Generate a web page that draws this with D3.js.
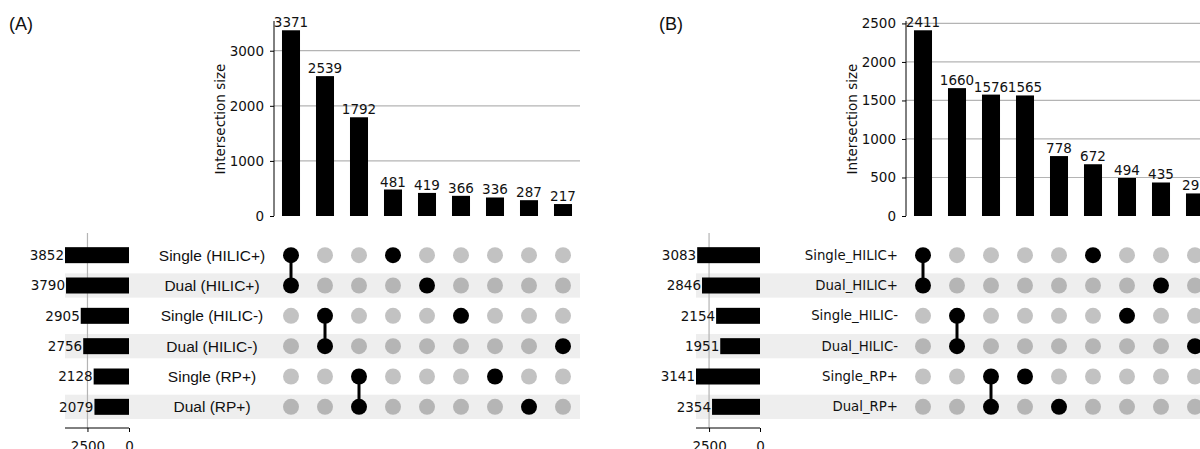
<!DOCTYPE html>
<html>
<head>
<meta charset="utf-8">
<script src="https://cdnjs.cloudflare.com/ajax/libs/d3/7.8.5/d3.min.js"></script>
<style>
  html, body { margin: 0; padding: 0; background: #fff; }
  svg { display: block; }
  text { font-family: "DejaVu Sans", sans-serif; fill: #111; }
</style>
</head>
<body>
<svg id="chart" width="1200" height="449"></svg>
<script>
// ---- data ----
var setsA = ["Single (HILIC+)", "Dual (HILIC+)", "Single (HILIC-)", "Dual (HILIC-)", "Single (RP+)", "Dual (RP+)"];
var totalsA = [3852, 3790, 2905, 2756, 2128, 2079];
var sizesA = [3371, 2539, 1792, 481, 419, 366, 336, 287, 217];
var membersA = [[0, 1], [2, 3], [4, 5], [0], [1], [2], [4], [5], [3]];
var yTicksA = [0, 1000, 2000, 3000];

var setsB = ["Single_HILIC+", "Dual_HILIC+", "Single_HILIC-", "Dual_HILIC-", "Single_RP+", "Dual_RP+"];
var totalsB = [3083, 2846, 2154, 1951, 3141, 2354];
var sizesB = [2411, 1660, 1576, 1565, 778, 672, 494, 435, 293];
var membersB = [[0, 1], [2, 3], [4, 5], [4], [5], [0], [2], [1], [3]];
var yTicksB = [0, 500, 1000, 1500, 2000, 2500];

var totalTicks = [2500, 0];

var svg = d3.select("#chart");

function panel(opt) {
  var g = svg.append("g");
  var n = opt.sizes.length;
  var step = 34;

  // columns (intersections)
  var x = d3.scaleBand().domain(d3.range(n))
      .range([opt.axisX, opt.axisX + step * n])
      .paddingInner(0.47).paddingOuter(0.235);
  var y = d3.scaleLinear().domain([0, d3.max(opt.sizes) * 1.05]).range([216, 21]);

  // rows (sets)
  var row = d3.scaleBand().domain(d3.range(opt.sets.length)).range([240, 422]);
  var tx = d3.scaleLinear().domain([0, d3.max(opt.totals)]).range([opt.totX0, opt.totX0 - 64]);

  // panel letter
  g.append("text").attr("x", opt.letterX).attr("y", 30)
    .style("font-family", "'Liberation Sans', Arial, sans-serif")
    .style("font-size", "18px").text(opt.letter);

  // ---------- intersection size bars ----------
  g.append("g").selectAll("line").data(opt.yTicks.filter(function (d) { return d > 0; }))
    .join("line")
    .attr("x1", opt.axisX).attr("x2", opt.axisX + step * n)
    .attr("y1", function (d) { return y(d); }).attr("y2", function (d) { return y(d); })
    .attr("stroke", "#b4b4b4").attr("stroke-width", 1.2);

  g.append("g").selectAll("rect").data(opt.sizes).join("rect")
    .attr("x", function (d, i) { return x(i); })
    .attr("width", x.bandwidth())
    .attr("y", function (d) { return y(d); })
    .attr("height", function (d) { return y(0) - y(d); })
    .attr("fill", "#000");

  g.append("g").selectAll("text").data(opt.sizes).join("text")
    .attr("x", function (d, i) { return x(i) + x.bandwidth() / 2; })
    .attr("y", function (d) { return y(d) - 3; })
    .attr("text-anchor", "middle")
    .style("font-size", "13.5px")
    .text(function (d) { return d; });

  var yAxis = g.append("g").attr("transform", "translate(" + opt.axisX + ",0)")
    .call(d3.axisLeft(y).tickValues(opt.yTicks).tickSize(4).tickPadding(6).tickFormat(d3.format("d")));
  yAxis.select(".domain").attr("d", "M0," + y.range()[1] + "V" + y(0)).attr("stroke", "#000");
  yAxis.selectAll("text").style("font-size", "13.5px").style("font-family", "'DejaVu Sans', sans-serif").attr("fill", "#111");

  g.append("text")
    .attr("transform", "translate(" + (opt.axisX - 54) + ",119) rotate(-90)")
    .attr("text-anchor", "middle").attr("dy", "0.35em")
    .style("font-size", "13.5px").text("Intersection size");

  // ---------- row shading ----------
  g.append("g").selectAll("rect").data(d3.range(opt.sets.length).filter(function (i) { return i % 2 === 1; }))
    .join("rect")
    .attr("x", tx.range()[1])
    .attr("width", opt.axisX + step * n - tx.range()[1])
    .attr("y", function (i) { return row(i) + row.bandwidth() * 0.1; })
    .attr("height", row.bandwidth() * 0.8)
    .attr("fill", "#eeeeee");

  // ---------- set totals ----------
  g.append("line")
    .attr("x1", tx(2500)).attr("x2", tx(2500)).attr("y1", 233).attr("y2", 428)
    .attr("stroke", "#b4b4b4").attr("stroke-width", 1.2);

  g.append("g").selectAll("rect").data(opt.totals).join("rect")
    .attr("x", function (d) { return tx(d); })
    .attr("width", function (d) { return tx(0) - tx(d); })
    .attr("y", function (d, i) { return row(i) + row.bandwidth() / 2 - 8; })
    .attr("height", 16)
    .attr("fill", "#000");

  g.append("g").selectAll("text").data(opt.totals).join("text")
    .attr("x", function (d) { return tx(d) - 1; })
    .attr("y", function (d, i) { return row(i) + row.bandwidth() / 2; })
    .attr("dy", "0.35em").attr("text-anchor", "end")
    .style("font-size", "13.5px")
    .text(function (d) { return d; });

  var xAxis = g.append("g").attr("transform", "translate(0,428)")
    .call(d3.axisBottom(tx).tickValues(totalTicks).tickSize(4).tickPadding(9).tickFormat(d3.format("d")));
  xAxis.select(".domain").attr("d", "M" + tx.range()[1] + ",0H" + tx(0)).attr("stroke", "#000");
  xAxis.selectAll("text").style("font-size", "13.5px").style("font-family", "'DejaVu Sans', sans-serif").attr("fill", "#111");

  // ---------- set names ----------
  g.append("g").selectAll("text").data(opt.sets).join("text")
    .attr("x", opt.labelX)
    .attr("y", function (d, i) { return row(i) + row.bandwidth() / 2; })
    .attr("dy", "0.35em")
    .attr("text-anchor", opt.labelAnchor)
    .style("font-family", opt.labelFont)
    .style("font-size", opt.labelSize)
    .text(function (d) { return d; });

  // ---------- membership matrix ----------
  var cells = [];
  opt.members.forEach(function (m, c) {
    opt.sets.forEach(function (s, r) { cells.push({ c: c, r: r, on: m.indexOf(r) >= 0 }); });
  });
  g.append("g").selectAll("circle").data(cells).join("circle")
    .attr("cx", function (d) { return x(d.c) + x.bandwidth() / 2; })
    .attr("cy", function (d) { return row(d.r) + row.bandwidth() / 2; })
    .attr("r", 8)
    .attr("fill", "#000")
    .attr("fill-opacity", function (d) { return d.on ? 1 : 0.24; });

  g.append("g").selectAll("line").data(opt.members.map(function (m, c) { return { c: c, m: m }; })
      .filter(function (d) { return d.m.length > 1; }))
    .join("line")
    .attr("x1", function (d) { return x(d.c) + x.bandwidth() / 2; })
    .attr("x2", function (d) { return x(d.c) + x.bandwidth() / 2; })
    .attr("y1", function (d) { return row(d3.min(d.m)) + row.bandwidth() / 2; })
    .attr("y2", function (d) { return row(d3.max(d.m)) + row.bandwidth() / 2; })
    .attr("stroke", "#000").attr("stroke-width", 3);
}

panel({
  letter: "(A)", letterX: 9,
  sets: setsA, totals: totalsA, sizes: sizesA, members: membersA, yTicks: yTicksA,
  axisX: 274, totX0: 129,
  labelX: 212, labelAnchor: "middle",
  labelFont: "'Liberation Sans', Arial, sans-serif", labelSize: "15.5px"
});

panel({
  letter: "(B)", letterX: 659,
  sets: setsB, totals: totalsB, sizes: sizesB, members: membersB, yTicks: yTicksB,
  axisX: 906, totX0: 760,
  labelX: 898, labelAnchor: "end",
  labelFont: "'DejaVu Sans', sans-serif", labelSize: "13.3px"
});
</script>
</body>
</html>
